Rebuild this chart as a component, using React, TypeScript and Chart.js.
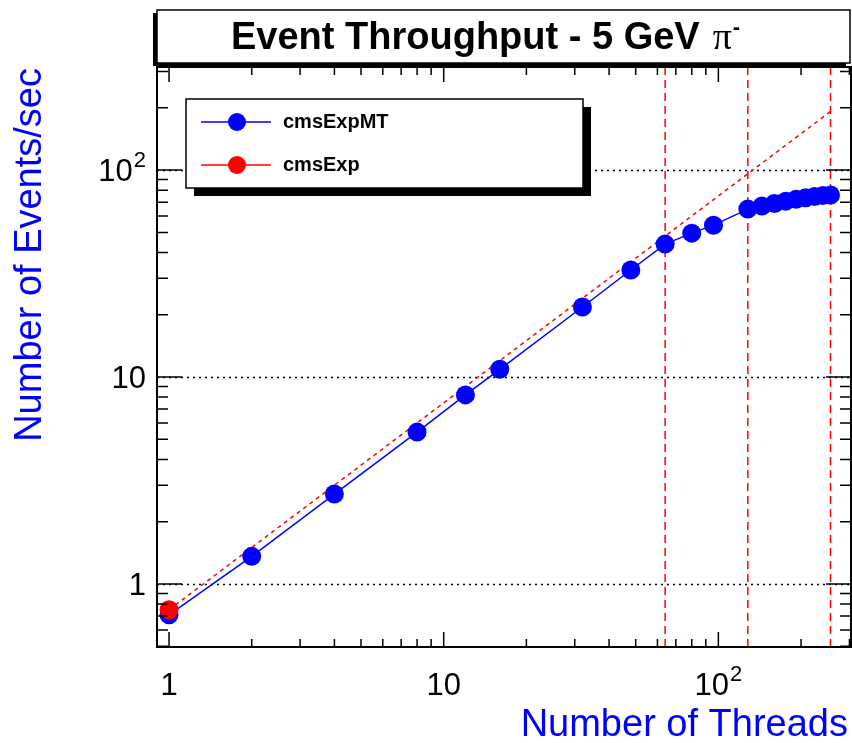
import React, { useEffect, useRef } from 'react';
import { Chart, registerables } from 'chart.js';

Chart.register(...registerables);

// ---- data ----
const threads = [1, 2, 4, 8, 12, 16, 32, 48, 64, 80, 96, 128, 144, 160, 176, 192, 208, 224, 240, 256];
const eventsMT = [0.71, 1.36, 2.72, 5.42, 8.2, 10.9, 21.8, 32.9, 43.9, 49.6, 54.2, 64.8, 67.0, 69.0, 70.8, 72.3, 73.5, 74.5, 75.3, 75.8];
const threadsST = [1];
const eventsST = [0.75];
const idealThreads = [1, 256];
const idealEvents = [0.75, 192];
const markerThreads = [64, 128, 256];

const xMajorTicks = [1, 10, 100];
const xMajorLabels = ['1', '10', '10|2'];
const xMinorTicks = [2, 3, 4, 5, 6, 7, 8, 9, 20, 30, 40, 50, 60, 70, 80, 90, 200, 300];
const yMajorTicks = [1, 10, 100];
const yMajorLabels = ['1', '10', '10|2'];
const yMinorTicks = [0.5, 0.6, 0.7, 0.8, 0.9, 2, 3, 4, 5, 6, 7, 8, 9, 20, 30, 40, 50, 60, 70, 80, 90, 200, 300];
const xRange = [0.904, 304];
const yRange = [0.496, 315];

const titleText = 'Event Throughput - 5 GeV';
const xTitle = 'Number of Threads';
const yTitle = 'Number of Events/sec';
const legendLabels = ['cmsExpMT', 'cmsExp'];

const BLUE = '#0000ff';
const RED = '#ff0000';
const SANS = '"Liberation Sans", Arial, Helvetica, sans-serif';

function drawPow(ctx: CanvasRenderingContext2D, label: string, x: number, baseline: number, size: number, align: 'center' | 'right') {
  const [base, sup] = label.split('|');
  ctx.font = `${size}px ${SANS}`;
  const wb = ctx.measureText(base).width;
  let ws = 0;
  const supSize = Math.round(size * 0.7);
  if (sup) {
    ctx.font = `${supSize}px ${SANS}`;
    ws = ctx.measureText(sup).width + 1;
  }
  const total = wb + ws;
  const left = align === 'center' ? x - total / 2 : x - total;
  ctx.textAlign = 'left';
  ctx.textBaseline = 'alphabetic';
  ctx.font = `${size}px ${SANS}`;
  ctx.fillText(base, left, baseline);
  if (sup) {
    ctx.font = `${supSize}px ${SANS}`;
    ctx.fillText(sup, left + wb + 1, baseline - size * 0.45);
  }
}

const rootPlugin = {
  id: 'rootStyle',
  beforeDatasetsDraw(chart: any) {
    const { ctx, chartArea: a, scales } = chart;
    const xs = scales.x;
    const ys = scales.y;
    ctx.save();
    ctx.strokeStyle = '#000';
    ctx.lineWidth = 1.5;
    ctx.setLineDash([2, 4]);
    yMajorTicks.forEach((v) => {
      const y = Math.round(ys.getPixelForValue(v)) + 0.5;
      ctx.beginPath();
      ctx.moveTo(a.left, y);
      ctx.lineTo(a.right, y);
      ctx.stroke();
    });
    ctx.strokeStyle = RED;
    ctx.lineWidth = 1.5;
    ctx.setLineDash([8, 5]);
    markerThreads.forEach((v) => {
      const x = xs.getPixelForValue(v);
      ctx.beginPath();
      ctx.moveTo(x, a.top);
      ctx.lineTo(x, a.bottom);
      ctx.stroke();
    });
    ctx.restore();
  },
  afterDatasetsDraw(chart: any) {
    const { ctx, chartArea: a, scales } = chart;
    const xs = scales.x;
    const ys = scales.y;
    ctx.save();
    ctx.setLineDash([]);
    ctx.strokeStyle = '#000';
    ctx.lineWidth = 2;
    ctx.strokeRect(a.left, a.top, a.right - a.left, a.bottom - a.top);
    ctx.lineWidth = 1.5;
    const tickX = (v: number, len: number) => {
      const x = xs.getPixelForValue(v);
      ctx.beginPath();
      ctx.moveTo(x, a.bottom);
      ctx.lineTo(x, a.bottom - len);
      ctx.moveTo(x, a.top);
      ctx.lineTo(x, a.top + len);
      ctx.stroke();
    };
    const tickY = (v: number, len: number) => {
      const y = ys.getPixelForValue(v);
      ctx.beginPath();
      ctx.moveTo(a.left, y);
      ctx.lineTo(a.left + len, y);
      ctx.moveTo(a.right, y);
      ctx.lineTo(a.right - len, y);
      ctx.stroke();
    };
    xMajorTicks.forEach((v) => tickX(v, 15));
    xMinorTicks.forEach((v) => tickX(v, 8));
    yMajorTicks.forEach((v) => tickY(v, 25));
    yMinorTicks.forEach((v) => tickY(v, 11));

    ctx.fillStyle = '#000';
    xMajorTicks.forEach((v, i) => {
      drawPow(ctx, xMajorLabels[i], xs.getPixelForValue(v), 695, 31, 'center');
    });
    yMajorTicks.forEach((v, i) => {
      drawPow(ctx, yMajorLabels[i], 146, ys.getPixelForValue(v) + 11, 31, 'right');
    });

    ctx.fillStyle = BLUE;
    ctx.font = `38px ${SANS}`;
    ctx.textAlign = 'right';
    ctx.textBaseline = 'alphabetic';
    ctx.fillText(xTitle, 848, 736);
    ctx.save();
    ctx.translate(41, 68);
    ctx.rotate(-Math.PI / 2);
    ctx.fillText(yTitle, 0, 0);
    ctx.restore();

    // title box
    ctx.fillStyle = '#000';
    ctx.fillRect(153, 13, 693, 53);
    ctx.fillStyle = '#fff';
    ctx.fillRect(157, 10, 693, 53);
    ctx.strokeStyle = '#000';
    ctx.lineWidth = 1.5;
    ctx.strokeRect(157, 10, 693, 53);
    ctx.fillStyle = '#000';
    ctx.font = `bold 38px ${SANS}`;
    ctx.textAlign = 'left';
    const tw = ctx.measureText(titleText).width;
    ctx.fillText(titleText, 231, 49);
    ctx.font = `38px "Liberation Serif", "DejaVu Serif", serif`;
    const px = 231 + tw + 13;
    ctx.fillText('π', px, 49);
    const pw = ctx.measureText('π').width;
    ctx.font = `bold 22px ${SANS}`;
    ctx.fillText('-', px + pw + 1, 34);

    // legend box
    ctx.fillStyle = '#000';
    ctx.fillRect(194, 107, 397, 89);
    ctx.fillStyle = '#fff';
    ctx.fillRect(186, 99, 397, 89);
    ctx.strokeStyle = '#000';
    ctx.lineWidth = 1.5;
    ctx.strokeRect(186, 99, 397, 89);
    const entries = [
      { label: legendLabels[0], color: BLUE, y: 122 },
      { label: legendLabels[1], color: RED, y: 165 },
    ];
    entries.forEach((e) => {
      ctx.strokeStyle = e.color;
      ctx.lineWidth = 1.5;
      ctx.beginPath();
      ctx.moveTo(201, e.y);
      ctx.lineTo(271, e.y);
      ctx.stroke();
      ctx.fillStyle = e.color;
      ctx.beginPath();
      ctx.arc(237, e.y, 9, 0, Math.PI * 2);
      ctx.fill();
      ctx.fillStyle = '#000';
      ctx.font = `bold 20px ${SANS}`;
      ctx.textAlign = 'left';
      ctx.textBaseline = 'middle';
      ctx.fillText(e.label, 283, e.y);
    });
    ctx.restore();
  },
};

export default function App() {
  const ref = useRef<HTMLCanvasElement | null>(null);
  useEffect(() => {
    if (!ref.current) return;
    const chart = new Chart(ref.current, {
      type: 'scatter',
      data: {
        datasets: [
          {
            label: legendLabels[1],
            data: threadsST.map((x, i) => ({ x, y: eventsST[i] })),
            showLine: false,
            pointRadius: 9.5,
            pointBackgroundColor: RED,
            pointBorderWidth: 0,
            borderColor: RED,
            order: 0,
          },
          {
            label: legendLabels[0],
            data: threads.map((x, i) => ({ x, y: eventsMT[i] })),
            showLine: true,
            borderColor: BLUE,
            borderWidth: 1.5,
            pointRadius: 9.5,
            pointBackgroundColor: BLUE,
            pointBorderWidth: 0,
            order: 1,
          },
          {
            label: 'ideal',
            data: idealThreads.map((x, i) => ({ x, y: idealEvents[i] })),
            showLine: true,
            borderColor: RED,
            borderWidth: 1.5,
            borderDash: [4, 4],
            pointRadius: 0,
            order: 2,
          },
        ],
      },
      options: {
        animation: false,
        responsive: false,
        maintainAspectRatio: false,
        events: [],
        layout: { autoPadding: false, padding: { left: 157, top: 67, right: 1, bottom: 96 } },
        scales: {
          x: { type: 'logarithmic', min: xRange[0], max: xRange[1], display: false },
          y: { type: 'logarithmic', min: yRange[0], max: yRange[1], display: false },
        },
        plugins: {
          legend: { display: false },
          title: { display: false },
          tooltip: { enabled: false },
        },
      },
      plugins: [rootPlugin],
    });
    return () => chart.destroy();
  }, []);
  return (
    <div style={{ position: 'fixed', left: 0, top: 0, width: 852, height: 743, background: '#fff' }}>
      <canvas ref={ref} width={852} height={743} style={{ display: 'block' }} />
    </div>
  );
}
